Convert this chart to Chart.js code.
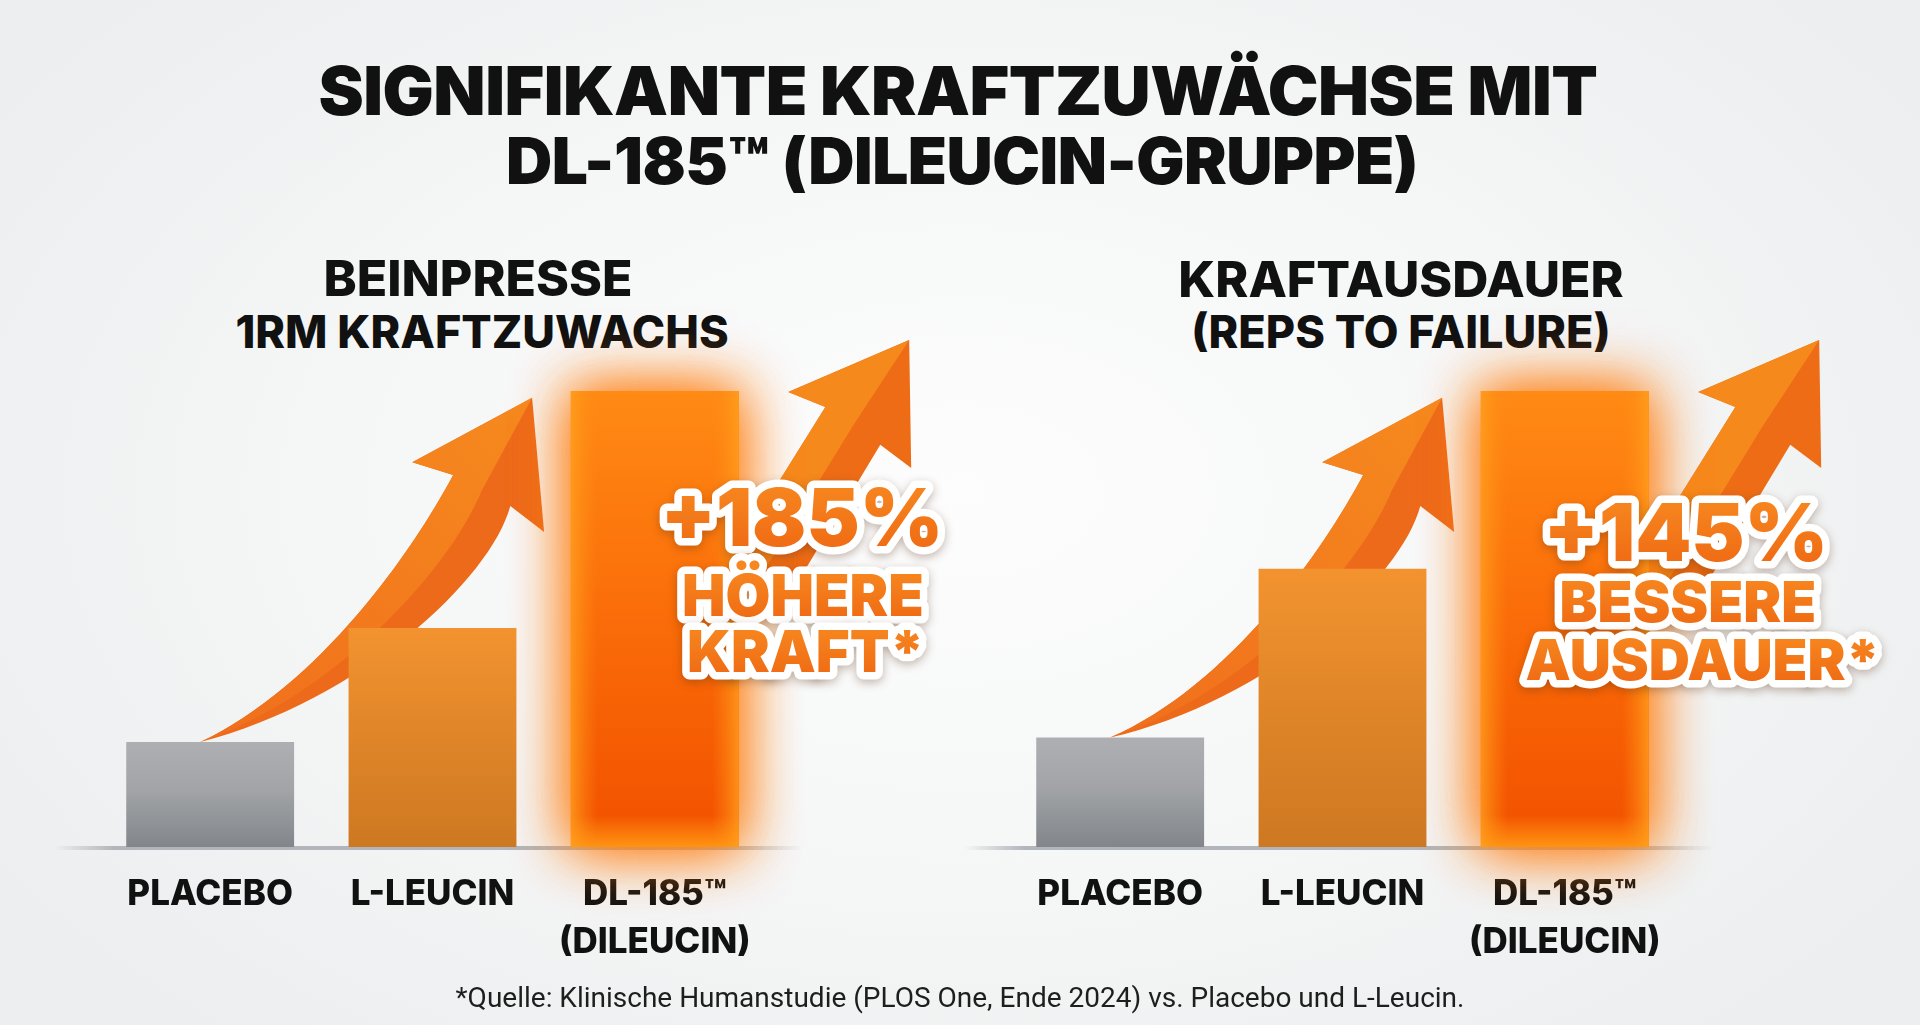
<!DOCTYPE html>
<html lang="de">
<head>
<meta charset="utf-8">
<title>Signifikante Kraftzuwächse mit DL-185</title>
<script src="https://cdn.jsdelivr.net/npm/chart.js@4.4.1/dist/chart.umd.min.js"></script>
<style>
  html, body {
    margin: 0;
    padding: 0;
  }
  body {
    width: 1920px;
    height: 1025px;
    overflow: hidden;
    position: relative;
    font-family: 'Inter', 'Noto Sans', sans-serif;
    color: #111;
    background: radial-gradient(ellipse 60% 70% at 50% 48%, #fdfdfd 0%, #f5f6f6 55%, #eceeef 100%);
  }
  .line {
    position: absolute;
    white-space: nowrap;
    transform: translateX(-50%);
    line-height: 1;
  }
  .main-title {
    font-weight: 900;
    letter-spacing: -0.5px;
  }
  .sub-title {
    font-weight: 800;
  }
  .chart-box {
    position: absolute;
    top: 0;
    width: 960px;
    height: 1025px;
  }
  #footnote {
    position: absolute;
    left: 960px;
    top: 984px;
    transform: translateX(-50%);
    white-space: nowrap;
    font-family: 'Liberation Sans Narrow', 'Roboto', sans-serif;
    font-size: 28px;
    line-height: 1;
    color: #1e1e1e;
  }
</style>
</head>
<body>
  <div id="titles"></div>

  <div class="chart-box" style="left:0">
    <canvas id="beinpresseChart" width="960" height="1025"></canvas>
  </div>
  <div class="chart-box" style="left:960px">
    <canvas id="ausdauerChart" width="960" height="1025"></canvas>
  </div>

  <div id="footnote"></div>

<script>
// Data
const categories = [['PLACEBO'], ['L-LEUCIN'], ['DL-185™', '(DILEUCIN)']];
const beinpresseValues = [23, 48, 100];   // relativer Kraftzuwachs (Balkenhöhe)
const ausdauerValues = [24, 61, 100];     // relative Kraftausdauer (Balkenhöhe)
const yMax = 100;

const mainTitle = ['SIGNIFIKANTE KRAFTZUWÄCHSE MIT', 'DL-185™ (DILEUCIN-GRUPPE)'];
const beinpresseTitle = ['BEINPRESSE', '1RM KRAFTZUWACHS'];
const ausdauerTitle = ['KRAFTAUSDAUER', '(REPS TO FAILURE)'];
const beinpresseCallout = ['+185%', 'HÖHERE', 'KRAFT*'];
const ausdauerCallout = ['+145%', 'BESSERE', 'AUSDAUER*'];
const footnoteText = '*Quelle: Klinische Humanstudie (PLOS One, Ende 2024) vs. Placebo und L-Leucin.';

// Titles (HTML text)
const titles = document.getElementById('titles');
function addLine(text, cls, cx, cy, size) {
  const el = document.createElement('div');
  el.className = 'line ' + cls;
  el.textContent = text;
  el.style.left = cx + 'px';
  el.style.top = (cy - size / 2) + 'px';
  el.style.fontSize = size + 'px';
  titles.appendChild(el);
}
addLine(mainTitle[0], 'main-title', 958, 90, 68);
addLine(mainTitle[1], 'main-title', 962, 161, 64);
addLine(beinpresseTitle[0], 'sub-title', 478, 278, 50);
addLine(beinpresseTitle[1], 'sub-title', 482, 331, 45);
addLine(ausdauerTitle[0], 'sub-title', 1401, 279, 50);
addLine(ausdauerTitle[1], 'sub-title', 1401, 331, 45);
document.getElementById('footnote').textContent = footnoteText;

// Bar colours (gradients built per bar)
function barFill(c) {
  const chart = c.chart;
  const area = chart.chartArea;
  if (!area) return '#f07a20';
  const ctx = chart.ctx;
  const top = chart.scales.y.getPixelForValue(c.raw);
  const g = ctx.createLinearGradient(0, top, 0, area.bottom);
  if (c.dataIndex === 0) {
    g.addColorStop(0, '#adafb2');
    g.addColorStop(0.45, '#a2a4a7');
    g.addColorStop(1, '#82868a');
  } else if (c.dataIndex === 1) {
    g.addColorStop(0, '#f2932f');
    g.addColorStop(1, '#cd7822');
  } else {
    g.addColorStop(0, '#ff8a14');
    g.addColorStop(0.45, '#fb6f0a');
    g.addColorStop(0.93, '#f35400');
    g.addColorStop(1, '#ff9412');
  }
  return g;
}

// Arrow shapes in scale units: u = category index, v = value on y scale
const curvedArrow = {
  tip: [1.448, 98.5], leftBarb: [0.909, 84.4], leftNotch: [1.093, 81.6],
  rightNotch: [1.350, 74.8], rightBarb: [1.502, 69.1],
  upperCp: [[0.913, 65.1], [0.495, 35.5]],
  lowerCp: [[1.260, 58.6], [0.675, 32.2]],
  tailU: -0.045
};
const straightArrow = {
  tip: [3.144, 111.2], leftBarb: [2.600, 99.8], leftNotch: [2.767, 96.5],
  rightNotch: [3.014, 88.2], rightBarb: [3.153, 83.1],
  leftTail: [2.30, 60.0], rightTail: [2.58, 53.0]
};

function makePt(chart) {
  const xs = chart.scales.x, ys = chart.scales.y;
  const x0 = xs.getPixelForValue(0);
  const w = xs.getPixelForValue(1) - x0;
  return (p) => [x0 + p[0] * w, ys.getPixelForValue(p[1])];
}

function drawCurvedArrow(ctx, chart, values) {
  const pt = makePt(chart);
  const a = curvedArrow;
  const P = pt(a.tip), LB = pt(a.leftBarb), LN = pt(a.leftNotch);
  const RN = pt(a.rightNotch), RB = pt(a.rightBarb);
  const T = pt([a.tailU, values[0]]);
  const u1 = pt(a.upperCp[0]), u2 = pt(a.upperCp[1]);
  const l1 = pt(a.lowerCp[0]), l2 = pt(a.lowerCp[1]);
  const M = [(LN[0] + RN[0]) / 2, (LN[1] + RN[1]) / 2];
  const m1 = [(u1[0] + l1[0]) / 2, (u1[1] + l1[1]) / 2];
  const m2 = [(u2[0] + l2[0]) / 2, (u2[1] + l2[1]) / 2];

  ctx.save();
  // whole arrow, darker tone
  ctx.beginPath();
  ctx.moveTo(P[0], P[1]);
  ctx.lineTo(LB[0], LB[1]);
  ctx.lineTo(LN[0], LN[1]);
  ctx.bezierCurveTo(u1[0], u1[1], u2[0], u2[1], T[0], T[1]);
  ctx.bezierCurveTo(l2[0], l2[1], l1[0], l1[1], RN[0], RN[1]);
  ctx.lineTo(RB[0], RB[1]);
  ctx.closePath();
  ctx.fillStyle = '#ed6a1a';
  ctx.fill();
  // upper-left half, lighter tone
  ctx.beginPath();
  ctx.moveTo(P[0], P[1]);
  ctx.lineTo(LB[0], LB[1]);
  ctx.lineTo(LN[0], LN[1]);
  ctx.bezierCurveTo(u1[0], u1[1], u2[0], u2[1], T[0], T[1]);
  ctx.bezierCurveTo(m2[0], m2[1], m1[0], m1[1], M[0], M[1]);
  ctx.closePath();
  const g = ctx.createLinearGradient(T[0], T[1], P[0], P[1]);
  g.addColorStop(0, '#f06e1c');
  g.addColorStop(1, '#f68a1e');
  ctx.fillStyle = g;
  ctx.fill();
  ctx.restore();
}

function drawStraightArrow(ctx, chart) {
  const pt = makePt(chart);
  const a = straightArrow;
  const P = pt(a.tip), LB = pt(a.leftBarb), LN = pt(a.leftNotch);
  const RN = pt(a.rightNotch), RB = pt(a.rightBarb);
  const LT = pt(a.leftTail), RT = pt(a.rightTail);
  const M = [(LN[0] + RN[0]) / 2, (LN[1] + RN[1]) / 2];
  const MT = [(LT[0] + RT[0]) / 2, (LT[1] + RT[1]) / 2];
  ctx.save();
  ctx.beginPath();
  ctx.moveTo(P[0], P[1]);
  ctx.lineTo(LB[0], LB[1]);
  ctx.lineTo(LN[0], LN[1]);
  ctx.lineTo(LT[0], LT[1]);
  ctx.lineTo(RT[0], RT[1]);
  ctx.lineTo(RN[0], RN[1]);
  ctx.lineTo(RB[0], RB[1]);
  ctx.closePath();
  ctx.fillStyle = '#ee6c16';
  ctx.fill();
  ctx.beginPath();
  ctx.moveTo(P[0], P[1]);
  ctx.lineTo(LB[0], LB[1]);
  ctx.lineTo(LN[0], LN[1]);
  ctx.lineTo(LT[0], LT[1]);
  ctx.lineTo(MT[0], MT[1]);
  ctx.lineTo(M[0], M[1]);
  ctx.closePath();
  ctx.fillStyle = '#f6891c';
  ctx.fill();
  ctx.restore();
}

// Decoration plugin: baseline, arrows, glow, callout text
const decorPlugin = {
  id: 'decor',
  beforeDatasetsDraw(chart, args, opts) {
    const ctx = chart.ctx;
    const area = chart.chartArea;
    const baseY = chart.scales.y.getPixelForValue(0);
    const values = chart.data.datasets[0].data;

    // baseline
    ctx.save();
    const x1 = area.left - 44, x2 = area.right + 36;
    const lg = ctx.createLinearGradient(x1, 0, x2, 0);
    lg.addColorStop(0, 'rgba(170,175,180,0)');
    lg.addColorStop(0.08, 'rgba(170,175,180,0.9)');
    lg.addColorStop(0.9, 'rgba(170,175,180,0.9)');
    lg.addColorStop(1, 'rgba(170,175,180,0)');
    ctx.fillStyle = lg;
    ctx.fillRect(x1, baseY - 1, x2 - x1, 4);
    ctx.restore();

    drawStraightArrow(ctx, chart);
    drawCurvedArrow(ctx, chart, values);

    // glow behind the DL-185 bar
    const bar = chart.getDatasetMeta(0).data[2];
    ctx.save();
    ctx.shadowColor = 'rgba(255,125,15,0.9)';
    ctx.shadowBlur = 55;
    ctx.fillStyle = '#ff7a10';
    for (let i = 0; i < 2; i++) {
      ctx.fillRect(bar.x - bar.width / 2, bar.y, bar.width, bar.base - bar.y);
    }
    ctx.restore();
  },
  afterDatasetsDraw(chart, args, opts) {
    const ctx = chart.ctx;
    const bar = chart.getDatasetMeta(0).data[2];
    const left = bar.x - bar.width / 2;
    const h = bar.base - bar.y;

    // lighter inner edges of the DL-185 bar
    ctx.save();
    const hg = ctx.createLinearGradient(left, 0, left + bar.width, 0);
    hg.addColorStop(0, 'rgba(255,160,30,0.8)');
    hg.addColorStop(0.16, 'rgba(255,140,20,0)');
    hg.addColorStop(0.84, 'rgba(255,140,20,0)');
    hg.addColorStop(1, 'rgba(255,160,30,0.8)');
    ctx.fillStyle = hg;
    ctx.fillRect(left, bar.y, bar.width, h);
    ctx.restore();

    // callout text
    const c = opts.callout;
    ctx.save();
    ctx.textAlign = 'center';
    ctx.textBaseline = 'middle';
    ctx.lineJoin = 'round';
    c.lines.forEach((text, i) => {
      const x = bar.x + c.dx[i];
      const y = c.y[i];
      ctx.font = '900 ' + c.size[i] + 'px Inter, sans-serif';
      ctx.save();
      ctx.shadowColor = 'rgba(90,50,20,0.35)';
      ctx.shadowBlur = 10;
      ctx.shadowOffsetY = 3;
      ctx.strokeStyle = '#ffffff';
      ctx.lineWidth = 15;
      ctx.strokeText(text, x, y);
      ctx.restore();
      const tg = ctx.createLinearGradient(0, y - c.size[i] / 2, 0, y + c.size[i] / 2);
      tg.addColorStop(0, '#f7871f');
      tg.addColorStop(1, '#ee6612');
      ctx.fillStyle = tg;
      ctx.fillText(text, x, y);
    });
    ctx.restore();
  }
};

function makeChart(id, values, callout, pad) {
  const ctx = document.getElementById(id).getContext('2d');
  return new Chart(ctx, {
    type: 'bar',
    data: {
      labels: categories,
      datasets: [{
        data: values,
        backgroundColor: barFill,
        borderWidth: 0,
        barPercentage: 0.755,
        categoryPercentage: 1
      }]
    },
    options: {
      responsive: false,
      animation: false,
      devicePixelRatio: 1,
      layout: {
        padding: { left: pad.left, right: pad.right, top: 391, bottom: 58 }
      },
      plugins: {
        legend: { display: false },
        tooltip: { enabled: false },
        decor: { callout: callout }
      },
      scales: {
        x: {
          grid: { display: false, drawTicks: false },
          border: { display: false },
          ticks: {
            color: '#111',
            padding: 23,
            maxRotation: 0,
            font: { family: 'Inter', weight: '800', size: 35, lineHeight: 1.38 }
          },
          afterFit(scale) { scale.height = 120; }
        },
        y: {
          display: false,
          min: 0,
          max: yMax
        }
      }
    },
    plugins: [decorPlugin]
  });
}

document.fonts.load('900 70px Inter').then(() => document.fonts.load('800 33px Inter')).then(() => {
  makeChart('beinpresseChart', beinpresseValues, {
    lines: beinpresseCallout,
    dx: [147, 148, 151],
    y: [522, 599, 655],
    size: [80, 58, 58]
  }, { left: 99, right: 194 });

  makeChart('ausdauerChart', ausdauerValues, {
    lines: ausdauerCallout,
    dx: [121, 123, 138],
    y: [537, 605, 663],
    size: [80, 57, 57]
  }, { left: 49, right: 244 });
});
</script>
</body>
</html>
